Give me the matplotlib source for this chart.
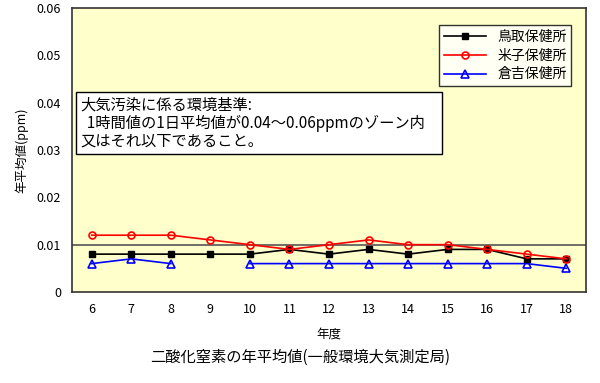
import numpy as np
import matplotlib
matplotlib.use("Agg")
from matplotlib import pyplot as plt

plt.rcParams['font.family'] = ['Noto Sans CJK JP', 'DejaVu Sans']

years = ["6", "7", "8", "9", "10", "11", "12", "13", "14", "15", "16", "17", "18"]
tottori = [0.008, 0.008, 0.008, 0.008, 0.008, 0.009, 0.008, 0.009, 0.008, 0.009, 0.009, 0.007, 0.007]
yonago = [0.012, 0.012, 0.012, 0.011, 0.010, 0.009, 0.010, 0.011, 0.010, 0.010, 0.009, 0.008, 0.007]
kurayoshi = [0.006, 0.007, 0.006, np.nan, 0.006, 0.006, 0.006, 0.006, 0.006, 0.006, 0.006, 0.006, 0.005]
yticks = [0, 0.01, 0.02, 0.03, 0.04, 0.05, 0.06]
ylabels = ["0", "0.01", "0.02", "0.03", "0.04", "0.05", "0.06"]

fig = plt.figure(figsize=(6.0, 3.83), dpi=100)
ax = fig.add_axes([72/600, 1 - 292/383, 514/600, 284/383])
ax.set_facecolor("#FFFFCC")

x = np.arange(len(years))
ax.axhline(0.01, color="#555555", lw=1.2, zorder=1)
ax.plot(x, tottori, color="black", marker="s", ms=5, mfc="black", mec="black", lw=1.2, label="鳥取保健所", zorder=3)
ax.plot(x, yonago, color="red", marker="o", ms=5, mfc="none", mec="red", mew=1.2, lw=1.2, label="米子保健所", zorder=4)
ax.plot(x, kurayoshi, color="blue", marker="^", ms=6, mfc="none", mec="blue", mew=1.2, lw=1.2, label="倉吉保健所", zorder=2)

ax.set_xlim(-0.5, len(years) - 0.5)
ax.set_ylim(0, 0.06)
ax.set_xticks(x)
ax.set_xticklabels(years, fontsize=9)
ax.set_yticks(yticks)
ax.set_yticklabels(ylabels, fontsize=9)
ax.tick_params(length=0, pad=8)
for s in ax.spines.values():
    s.set_linewidth(1.2)
    s.set_color("#333333")

ax.set_xlabel("年度", fontsize=9, labelpad=8)
ax.set_ylabel("年平均値(ppm)", fontsize=9, labelpad=6)

leg = ax.legend(loc="upper right", bbox_to_anchor=(0.985, 0.965), fontsize=10, frameon=True,
                fancybox=False, edgecolor="black", handlelength=3.0, borderpad=0.35, labelspacing=0.35)
leg.get_frame().set_linewidth(1.0)

ax.text(0.016, 0.595, "大気汚染に係る環境基準:\n  1時間値の1日平均値が0.04～0.06ppmのゾーン内    \n又はそれ以下であること。",
        transform=ax.transAxes, fontsize=11, va="center", ha="left", linespacing=1.1,
        bbox=dict(boxstyle="square,pad=0.25", fc="white", ec="black", lw=1.0))

fig.text(0.5, 0.055, "二酸化窒素の年平均値(一般環境大気測定局)", ha="center", fontsize=11)

fig.savefig("out.png", dpi=100)
